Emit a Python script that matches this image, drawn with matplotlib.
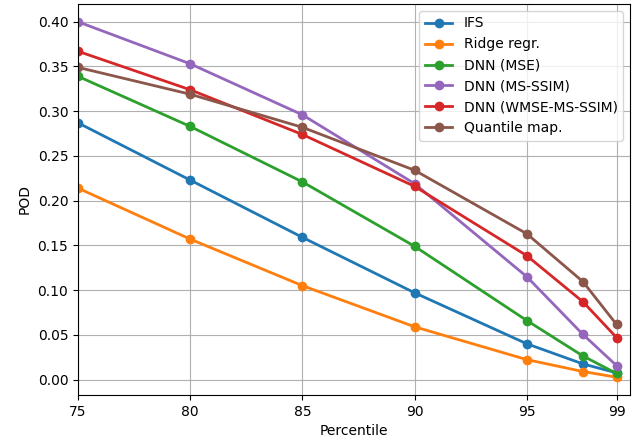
import matplotlib
matplotlib.use("Agg")
import matplotlib.pyplot as plt

percentiles = [75, 80, 85, 90, 95, 97.5, 99]
xtick_labels = [75, 80, 85, 90, 95, 99]

ifs = [0.287, 0.223, 0.159, 0.097, 0.040, 0.0175, 0.0075]
ridge = [0.214, 0.157, 0.105, 0.059, 0.0223, 0.009, 0.0026]
dnn_mse = [0.339, 0.283, 0.221, 0.149, 0.066, 0.0264, 0.0068]
dnn_msssim = [0.400, 0.353, 0.296, 0.219, 0.115, 0.0505, 0.0156]
dnn_wmse = [0.367, 0.324, 0.274, 0.216, 0.1385, 0.087, 0.047]
quantile = [0.349, 0.319, 0.282, 0.234, 0.163, 0.1095, 0.0616]

series = [
    ("IFS", ifs, "tab:blue"),
    ("Ridge regr.", ridge, "tab:orange"),
    ("DNN (MSE)", dnn_mse, "tab:green"),
    ("DNN (MS-SSIM)", dnn_msssim, "tab:purple"),
    ("DNN (WMSE-MS-SSIM)", dnn_wmse, "tab:red"),
    ("Quantile map.", quantile, "tab:brown"),
]

fig = plt.figure(figsize=(6.32, 4.45), dpi=100)
ax = fig.add_axes([78/632, 1-395/445, (630-78)/632, (395-4)/445])
for name, vals, col in series:
    ax.plot(percentiles, vals, marker="o", lw=2, ms=6, label=name, color=col)

ax.set_xticks(xtick_labels)
ax.set_xlim(75, 99.6)
ax.grid(True)
ax.set_xlabel("Percentile")
ax.set_ylabel("POD")
ax.legend(loc="upper right")
fig.savefig("out.png", dpi=100)
